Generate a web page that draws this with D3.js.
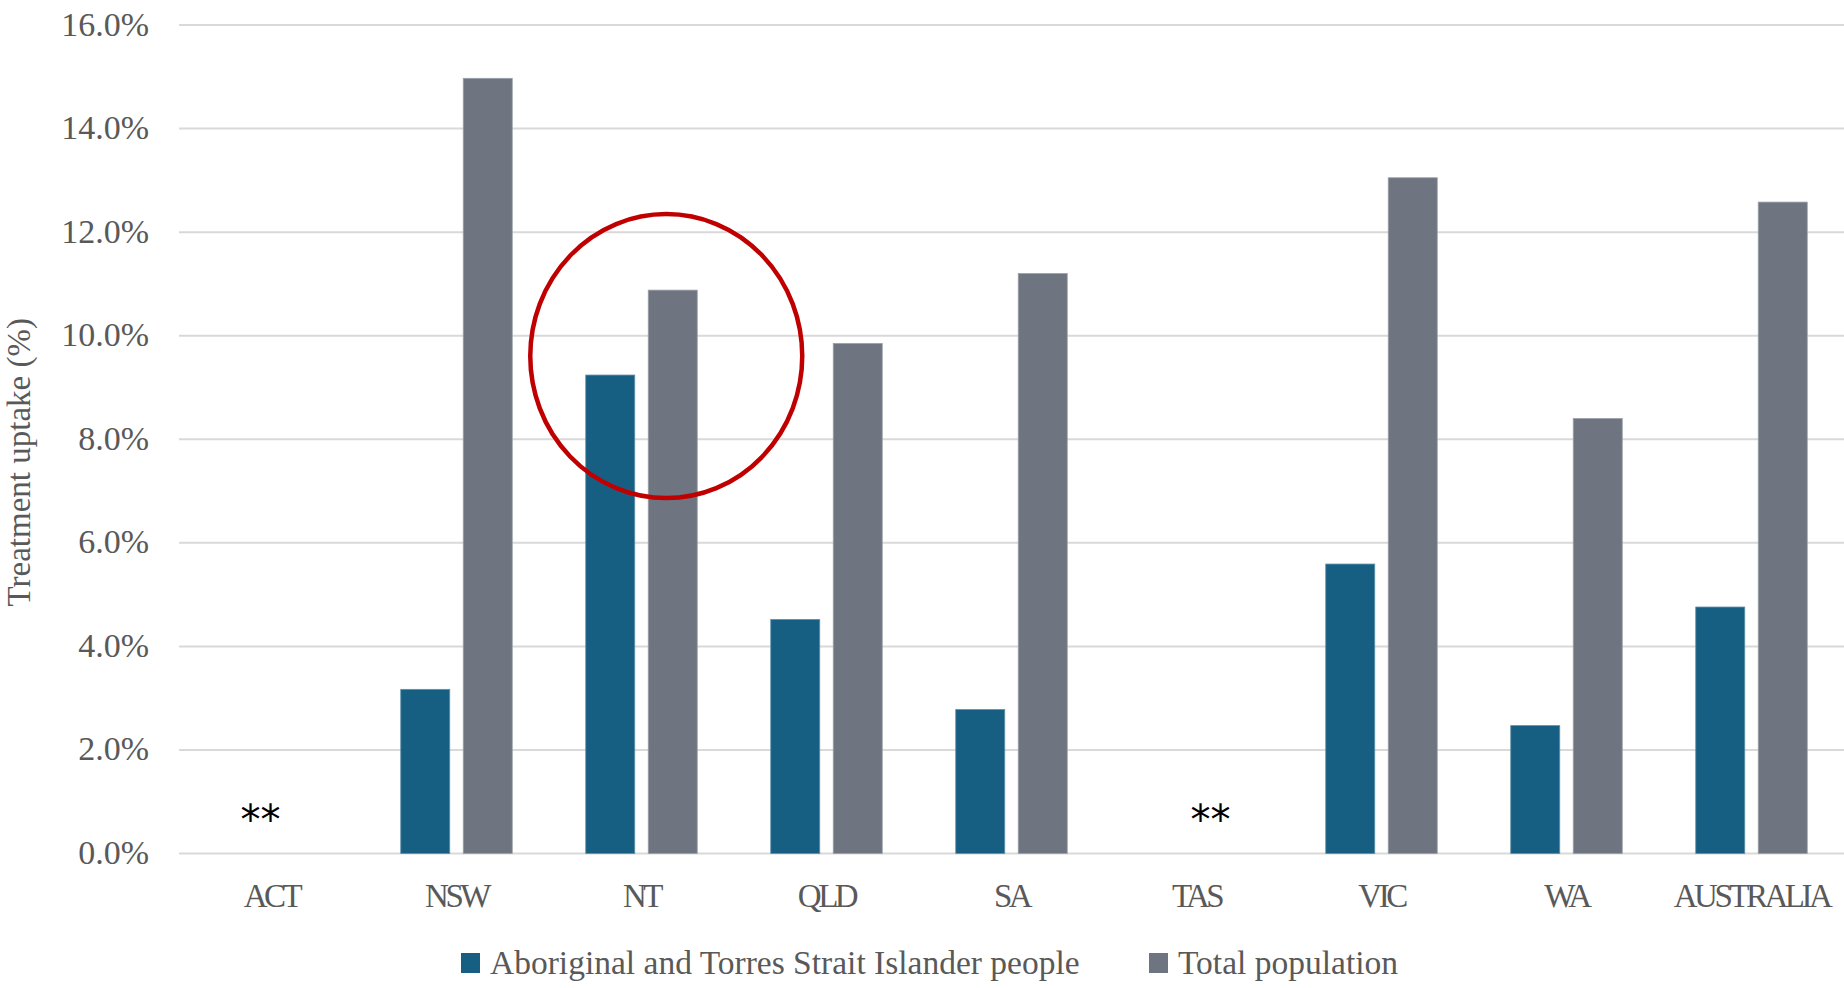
<!DOCTYPE html>
<html>
<head>
<meta charset="utf-8">
<script src="https://cdn.jsdelivr.net/npm/d3@7"></script>
<style>
  html, body { margin: 0; padding: 0; background: #ffffff; }
  svg { display: block; }
</style>
</head>
<body>
<svg id="chart" width="1844" height="988"></svg>
<script>
// Treatment uptake by jurisdiction
const categories = ["ACT", "NSW", "NT", "QLD", "SA", "TAS", "VIC", "WA", "AUSTRALIA"];
const seriesNames = ["Aboriginal and Torres Strait Islander people", "Total population"];
// null = not reported (shown as "**")
const indigenousValues = [null, 3.17, 9.24, 4.52, 2.78, null, 5.59, 2.47, 4.76];
const totalValues      = [null, 14.97, 10.88, 9.85, 11.20, null, 13.05, 8.40, 12.58];
const yTicks = [0, 2, 4, 6, 8, 10, 12, 14, 16];
const suppressed = ["ACT", "TAS"];
const highlighted = "NT";
const colors = ["#175F82", "#6E7480"];
const strokes = ["#5E8FAA", "#9A9EA8"];

const svg = d3.select("#chart");
const plotLeft = 179, plotRight = 1844, plotTop = 25, plotBottom = 853.5;

const x = d3.scaleBand().domain(categories).range([plotLeft, plotRight]).paddingInner(0).paddingOuter(0);
const groupW = 111.5;
const x1 = d3.scaleBand().domain([0, 1])
  .range([(x.bandwidth() - groupW) / 2, (x.bandwidth() + groupW) / 2])
  .paddingInner(0.216).paddingOuter(0);
const y = d3.scaleLinear().domain([0, 16]).range([plotBottom, plotTop]);

const textColor = "#595959";
const serif = "'Liberation Serif', 'Times New Roman', serif";

// Horizontal gridlines
svg.append("g").selectAll("line").data(yTicks).join("line")
  .attr("x1", plotLeft).attr("x2", plotRight)
  .attr("y1", d => y(d)).attr("y2", d => y(d))
  .attr("stroke", "#D9D9D9").attr("stroke-width", 2);

// Y axis tick labels
svg.append("g").selectAll("text").data(yTicks).join("text")
  .attr("x", 149).attr("y", d => y(d) + 10.5)
  .attr("text-anchor", "end")
  .attr("font-family", serif).attr("font-size", 34)
  .attr("fill", textColor)
  .text(d => d.toFixed(1) + "%");

// Y axis title
svg.append("text")
  .attr("transform", `translate(30, ${(plotTop + plotBottom) / 2 + 23}) rotate(-90)`)
  .attr("text-anchor", "middle")
  .attr("font-family", serif).attr("font-size", 33)
  .attr("fill", textColor)
  .text("Treatment uptake (%)");

// Bars
const rows = categories.map((c, i) => ({ cat: c, vals: [indigenousValues[i], totalValues[i]] }));
const groups = svg.append("g").selectAll("g").data(rows).join("g")
  .attr("transform", d => `translate(${x(d.cat)},0)`);
groups.selectAll("rect")
  .data(d => d.vals.map((v, k) => ({ v, k })).filter(e => e.v !== null))
  .join("rect")
  .attr("x", e => x1(e.k))
  .attr("width", x1.bandwidth())
  .attr("y", e => y(e.v))
  .attr("height", e => y(0) - y(e.v))
  .attr("fill", e => colors[e.k])
  .attr("stroke", e => strokes[e.k])
  .attr("stroke-width", 0.8);

// Category labels
svg.append("g").selectAll("text").data(categories).join("text")
  .attr("x", d => x(d) + x.bandwidth() / 2)
  .attr("y", 907)
  .attr("text-anchor", "middle")
  .attr("font-family", serif).attr("font-size", 33)
  .attr("letter-spacing", "-3.5px")
  .attr("fill", textColor)
  .text(d => d);

// "**" markers for jurisdictions without data
const starOffset = { ACT: -11, TAS: 14 };
svg.append("g").selectAll("text").data(suppressed).join("text")
  .attr("x", d => x(d) + x.bandwidth() / 2 + starOffset[d])
  .attr("y", 834)
  .attr("text-anchor", "middle")
  .attr("font-family", "'DejaVu Sans', sans-serif").attr("font-size", 40)
  .attr("fill", "#000000")
  .text("**");

// Red ring around the NT pair
const ntTop = y(totalValues[categories.indexOf(highlighted)]);
svg.append("ellipse")
  .attr("cx", x(highlighted) + x1(1) + 18)
  .attr("cy", ntTop + 66)
  .attr("rx", 136).attr("ry", 142)
  .attr("fill", "none")
  .attr("stroke", "#C00000").attr("stroke-width", 4.5);

// Legend
const legendItems = [
  { name: seriesNames[0], color: colors[0], x: 461 },
  { name: seriesNames[1], color: colors[1], x: 1149 }
];
const lg = svg.append("g").selectAll("g").data(legendItems).join("g")
  .attr("transform", d => `translate(${d.x}, 953)`);
lg.append("rect").attr("width", 19).attr("height", 20).attr("fill", d => d.color);
lg.append("text")
  .attr("x", 29).attr("y", 20.5)
  .attr("font-family", serif).attr("font-size", 33.5)
  .attr("fill", textColor)
  .text(d => d.name);
</script>
</body>
</html>
